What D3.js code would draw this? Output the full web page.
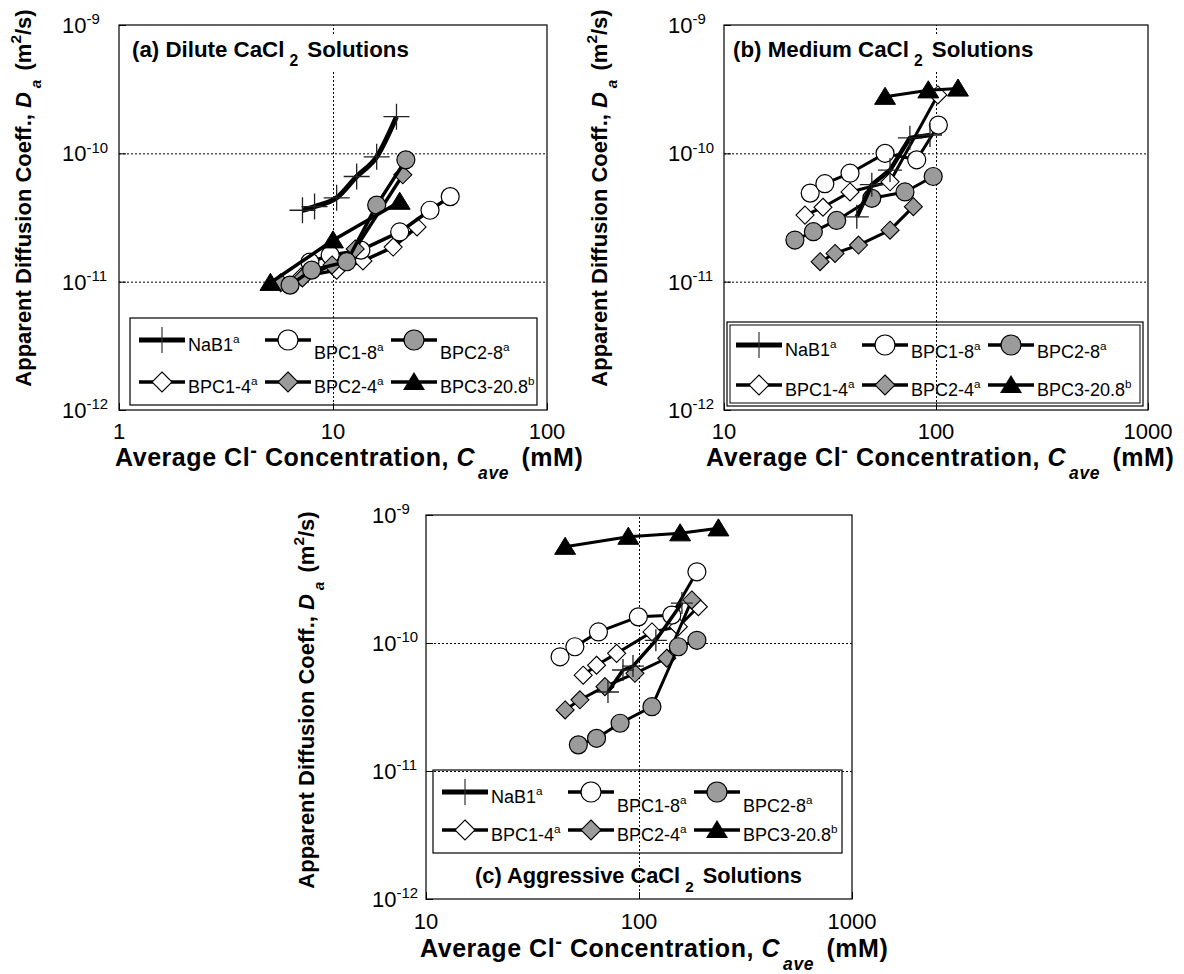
<!DOCTYPE html>
<html>
<head>
<meta charset="utf-8">
<script src="https://cdn.jsdelivr.net/npm/d3@7"></script>
<style>
  html, body { margin: 0; padding: 0; background: #fff; }
  svg { display: block; font-family: "Liberation Sans", Arial, Helvetica, sans-serif; }
</style>
</head>
<body>
<svg id="chart" width="1184" height="974"></svg>
<script>
// ---------------- DATA ----------------
const seriesNames = ["NaB1", "BPC1-8", "BPC2-8", "BPC1-4", "BPC2-4", "BPC3-20.8"];
const seriesSup   = ["a", "a", "a", "a", "a", "b"];
const xTicksA = [1, 10, 100];
const xTicksBC = [10, 100, 1000];
const yTickExps = [-12, -11, -10, -9];

// (a) Dilute CaCl2 solutions
const A_NaB1_x  = [7.2, 8.2, 10.4, 12.9, 16.0, 19.8];
const A_NaB1_y  = [3.6e-11, 3.85e-11, 4.5e-11, 6.6e-11, 9.4e-11, 1.93e-10];
const A_BPC18_x = [7.8, 9.7, 13.5, 20.5, 28.4, 35.3];
const A_BPC18_y = [1.42e-11, 1.61e-11, 1.76e-11, 2.44e-11, 3.6e-11, 4.6e-11];
const A_BPC28_x = [6.3, 7.95, 11.6, 16.0, 21.9];
const A_BPC28_y = [9.4e-12, 1.23e-11, 1.43e-11, 3.95e-11, 8.9e-11];
const A_BPC14_x = [7.1, 10.4, 13.8, 19.1, 24.7];
const A_BPC14_y = [1.09e-11, 1.23e-11, 1.45e-11, 1.86e-11, 2.67e-11];
const A_BPC24_x = [5.7, 7.2, 9.9, 12.7, 21.2];
const A_BPC24_y = [9.8e-12, 1.07e-11, 1.35e-11, 1.8e-11, 6.8e-11];
const A_BPC3_x  = [5.1, 10.0, 20.5];
const A_BPC3_y  = [9.8e-12, 2.1e-11, 4.2e-11];

// (b) Medium CaCl2 solutions
const B_NaB1_x  = [42.3, 49.8, 60.7, 75.3, 93.7];
const B_NaB1_y  = [3.2e-11, 5.7e-11, 7.4e-11, 1.32e-10, 1.39e-10];
const B_BPC18_x = [25.5, 29.9, 39.3, 57.5, 81.1, 102.6];
const B_BPC18_y = [4.9e-11, 5.8e-11, 7.0e-11, 1.0e-10, 8.9e-11, 1.66e-10];
const B_BPC28_x = [21.6, 26.4, 34.0, 49.8, 71.4, 97.0];
const B_BPC28_y = [2.11e-11, 2.45e-11, 3.0e-11, 4.46e-11, 5.0e-11, 6.6e-11];
const B_BPC14_x = [24.1, 29.3, 39.3, 60.7, 102.0];
const B_BPC14_y = [3.3e-11, 3.8e-11, 5.0e-11, 6.0e-11, 2.85e-10];
const B_BPC24_x = [28.4, 33.4, 43.1, 60.7, 78.2];
const B_BPC24_y = [1.43e-11, 1.66e-11, 1.93e-11, 2.52e-11, 3.84e-11];
const B_BPC3_x  = [57.5, 92.0, 127.0];
const B_BPC3_y  = [2.76e-10, 3.1e-10, 3.2e-10];

// (c) Aggressive CaCl2 solutions
const C_NaB1_x  = [71.5, 84.1, 93.7, 120.0, 159.0];
const C_NaB1_y  = [4.14e-11, 6.15e-11, 6.6e-11, 1.05e-10, 2.05e-10];
const C_BPC18_x = [42.6, 50.0, 64.5, 99.3, 142.5, 187.0];
const C_BPC18_y = [7.8e-11, 9.35e-11, 1.22e-10, 1.6e-10, 1.65e-10, 3.6e-10];
const C_BPC28_x = [51.9, 63.2, 81.5, 115.0, 153.0, 187.0];
const C_BPC28_y = [1.6e-11, 1.8e-11, 2.36e-11, 3.18e-11, 9.35e-11, 1.05e-10];
const C_BPC14_x = [54.7, 63.2, 78.5, 115.0, 153.0, 190.0];
const C_BPC14_y = [5.6e-11, 6.7e-11, 8.3e-11, 1.22e-10, 1.34e-10, 1.92e-10];
const C_BPC24_x = [45.0, 52.8, 69.2, 95.7, 135.0, 177.0];
const C_BPC24_y = [3.0e-11, 3.6e-11, 4.56e-11, 5.8e-11, 7.6e-11, 2.17e-10];
const C_BPC3_x  = [45.0, 89.1, 156.0, 236.0];
const C_BPC3_y  = [5.65e-10, 6.77e-10, 7.2e-10, 7.87e-10];

// ---------------- STYLE / LAYOUT ----------------
const GRAY = "#9b9b9b";
const styles = {
  "NaB1":      {marker: "cross",    fill: "none"},
  "BPC1-8":    {marker: "circle",   fill: "#fff"},
  "BPC2-8":    {marker: "circle",   fill: GRAY},
  "BPC1-4":    {marker: "diamond",  fill: "#fff"},
  "BPC2-4":    {marker: "diamond",  fill: GRAY},
  "BPC3-20.8": {marker: "triangle", fill: "#000"}
};
const drawOrder = ["BPC1-4", "BPC1-8", "BPC2-4", "BPC2-8", "NaB1", "BPC3-20.8"];

const panels = [
  { id: "a", x0: 119, x1: 547, y0: 25, y1: 410, xDomain: [1, 100], xTicks: xTicksA,
    data: {
      "NaB1": [A_NaB1_x, A_NaB1_y], "BPC1-8": [A_BPC18_x, A_BPC18_y], "BPC2-8": [A_BPC28_x, A_BPC28_y],
      "BPC1-4": [A_BPC14_x, A_BPC14_y], "BPC2-4": [A_BPC24_x, A_BPC24_y], "BPC3-20.8": [A_BPC3_x, A_BPC3_y] },
    nabW: 5, lineW: 3.5, crossH: 13, smoothNa: true,
    title: {x: 132, y: 57, text: "(a) Dilute CaCl", rest: "Solutions", bg: true, fs: 22.3},
    legend: {x: 130, y: 318, w: 407, h: 87, r1: 22, r2: 64, off2: 19, dbl: false},
    xLabelY: 439, xTitle: {x: 115, y: 466}, yTitle: {x: 31, y: 198}, yLabX: 62 },
  { id: "b", x0: 724, x1: 1148, y0: 25, y1: 410, xDomain: [10, 1000], xTicks: xTicksBC,
    data: {
      "NaB1": [B_NaB1_x, B_NaB1_y], "BPC1-8": [B_BPC18_x, B_BPC18_y], "BPC2-8": [B_BPC28_x, B_BPC28_y],
      "BPC1-4": [B_BPC14_x, B_BPC14_y], "BPC2-4": [B_BPC24_x, B_BPC24_y], "BPC3-20.8": [B_BPC3_x, B_BPC3_y] },
    nabW: 4.5, lineW: 3, crossH: 12, smoothNa: false,
    title: {x: 733, y: 57, text: "(b) Medium CaCl", rest: "Solutions", bg: true, fs: 22.3},
    legend: {x: 727, y: 322, w: 416, h: 84, r1: 23, r2: 63, off2: 13, dbl: true},
    xLabelY: 439, xTitle: {x: 706, y: 466}, yTitle: {x: 607, y: 198}, yLabX: 668 },
  { id: "c", x0: 426, x1: 852, y0: 515, y1: 899, xDomain: [10, 1000], xTicks: xTicksBC,
    data: {
      "NaB1": [C_NaB1_x, C_NaB1_y], "BPC1-8": [C_BPC18_x, C_BPC18_y], "BPC2-8": [C_BPC28_x, C_BPC28_y],
      "BPC1-4": [C_BPC14_x, C_BPC14_y], "BPC2-4": [C_BPC24_x, C_BPC24_y], "BPC3-20.8": [C_BPC3_x, C_BPC3_y] },
    nabW: 3.5, lineW: 3, crossH: 11, smoothNa: false,
    title: {x: 475, y: 883, text: "(c) Aggressive CaCl", rest: "Solutions", bg: false, fs: 21.8},
    legend: {x: 433, y: 770, w: 409, h: 83, r1: 22, r2: 60, off2: 20, dbl: false},
    xLabelY: 929, xTitle: {x: 420, y: 957}, yTitle: {x: 314, y: 700}, yLabX: 372 }
];

const svg = d3.select("#chart");

function markerPath(type, s) {
  if (type === "diamond") return `M0,${-s}L${s},0L0,${s}L${-s},0Z`;
  if (type === "triangle") { const h = s * 1.0; return `M0,${-h}L${s*1.1},${h*0.8}L${-s*1.1},${h*0.8}Z`; }
  return null;
}

function drawMarker(g, type, fill, x, y, crossH) {
  if (type === "circle") {
    g.append("circle").attr("cx", x).attr("cy", y).attr("r", 9)
      .attr("fill", fill).attr("stroke", "#000").attr("stroke-width", 1.2);
  } else if (type === "diamond") {
    g.append("path").attr("transform", `translate(${x},${y})`).attr("d", markerPath("diamond", 9))
      .attr("fill", fill).attr("stroke", "#000").attr("stroke-width", 1.1);
  } else if (type === "triangle") {
    g.append("path").attr("transform", `translate(${x},${y})`).attr("d", markerPath("triangle", 9.5))
      .attr("fill", "#000").attr("stroke", "#000").attr("stroke-width", 1);
  } else if (type === "cross") {
    g.append("path").attr("d", `M${x - crossH},${y}H${x + crossH}M${x},${y - crossH}V${y + crossH}`)
      .attr("stroke", "#222").attr("stroke-width", 1.3).attr("fill", "none");
  }
}

// rich text helper: parts [{t, sup, sub, i, dx, shift, scale}]
function richText(g, x, y, parts, fs, opts = {}) {
  const t = g.append("text").attr("x", x).attr("y", y).attr("font-size", fs)
    .attr("font-weight", opts.bold ? "bold" : "normal").attr("fill", "#000");
  if (opts.anchor) t.attr("text-anchor", opts.anchor);
  if (opts.transform) t.attr("transform", opts.transform);
  if (opts.ls) t.attr("letter-spacing", opts.ls);
  let cur = 0;
  parts.forEach(p => {
    const ts = t.append("tspan").text(p.t);
    let target = 0;
    if (p.sup) target = -(p.shift || 0.42) * fs;
    if (p.sub) target = (p.shift || 0.35) * fs;
    ts.attr("dy", target - cur);
    cur = target;
    if (p.sup || p.sub) ts.attr("font-size", (p.scale || 0.65) * fs);
    if (p.i) ts.attr("font-style", "italic");
    if (p.dx) ts.attr("dx", p.dx);
  });
  return t;
}

panels.forEach(P => {
  const g = svg.append("g");
  const x = d3.scaleLog().domain(P.xDomain).range([P.x0, P.x1]);
  const y = d3.scaleLog().domain([1e-12, 1e-9]).range([P.y1, P.y0]);

  // gridlines (dotted) at decades
  const gridG = g.append("g");
  gridG.append("g").attr("transform", `translate(0,${P.y1})`)
    .call(d3.axisBottom(x).tickValues(P.xTicks.slice(1, -1)).tickSize(-(P.y1 - P.y0)).tickFormat(""))
    .call(a => a.select(".domain").remove())
    .call(a => a.selectAll("line").attr("stroke", "#000").attr("stroke-width", 1).attr("stroke-dasharray", "2,2"));
  gridG.append("g").attr("transform", `translate(${P.x0},0)`)
    .call(d3.axisLeft(y).tickValues(yTickExps.slice(1, -1).map(e => Math.pow(10, e))).tickSize(-(P.x1 - P.x0)).tickFormat(""))
    .call(a => a.select(".domain").remove())
    .call(a => a.selectAll("line").attr("stroke", "#000").attr("stroke-width", 1).attr("stroke-dasharray", "2,2"));

  // frame
  g.append("rect").attr("x", P.x0).attr("y", P.y0).attr("width", P.x1 - P.x0).attr("height", P.y1 - P.y0)
    .attr("fill", "none").attr("stroke", "#000").attr("stroke-width", 1.2);

  // inward ticks
  g.append("g").attr("transform", `translate(0,${P.y1})`)
    .call(d3.axisBottom(x).tickValues(P.xTicks).tickSize(-7).tickFormat(""))
    .call(a => a.select(".domain").remove())
    .call(a => a.selectAll("line").attr("stroke", "#000"));
  g.append("g").attr("transform", `translate(${P.x0},0)`)
    .call(d3.axisLeft(y).tickValues(yTickExps.map(e => Math.pow(10, e))).tickSize(-7).tickFormat(""))
    .call(a => a.select(".domain").remove())
    .call(a => a.selectAll("line").attr("stroke", "#000"));

  // tick labels
  P.xTicks.forEach(v => {
    g.append("text").attr("x", x(v)).attr("y", P.xLabelY).attr("text-anchor", "middle")
      .attr("font-size", 22).text(String(v));
  });
  yTickExps.forEach(e => {
    richText(g, P.yLabX, y(Math.pow(10, e)) + 8, [{t: "10"}, {t: String(e), sup: true, shift: 0.4, scale: 0.68}], 22);
  });

  // title (with background box covering grid)
  const tg = g.append("g");
  const tt = richText(tg, P.title.x, P.title.y,
    [{t: P.title.text}, {t: "2", sub: true, dx: 5, shift: 0.42, scale: 0.7}, {t: " " + P.title.rest, dx: 3}], P.title.fs, {bold: true});
  if (P.title.bg) {
    const bb = tt.node().getBBox();
    tg.insert("rect", "text").attr("x", bb.x - 4).attr("y", bb.y - 2).attr("width", bb.width + 8).attr("height", bb.height + 4)
      .attr("fill", "#fff");
  }

  // series lines
  const lineGen = d3.line().x(d => x(d[0])).y(d => y(d[1]));
  drawOrder.forEach(name => {
    const [xs, ys] = P.data[name];
    const pts = xs.map((v, i) => [v, ys[i]]);
    const st = styles[name];
    const sg = g.append("g");
    const lg = (name === "NaB1" && P.smoothNa) ? d3.line().x(d => x(d[0])).y(d => y(d[1])).curve(d3.curveMonotoneX) : lineGen;
    sg.append("path").attr("d", lg(pts)).attr("fill", "none").attr("stroke", "#000")
      .attr("stroke-width", name === "NaB1" ? P.nabW : P.lineW).attr("stroke-linejoin", "round");
    pts.forEach(p => drawMarker(sg, st.marker, st.fill, x(p[0]), y(p[1]), P.crossH));
  });

  // legend
  const L = P.legend;
  const lgG = g.append("g");
  lgG.append("rect").attr("x", L.x).attr("y", L.y).attr("width", L.w).attr("height", L.h)
    .attr("fill", "none").attr("stroke", "#000").attr("stroke-width", 1.2);
  if (L.dbl) {
    lgG.append("rect").attr("x", L.x + 3).attr("y", L.y + 3).attr("width", L.w - 6).attr("height", L.h - 6)
      .attr("fill", "none").attr("stroke", "#000").attr("stroke-width", 1);
  }
  seriesNames.forEach((name, i) => {
    const col = i % 3, row = Math.floor(i / 3);
    const lx0 = L.x + 9 + col * 126, lx1 = lx0 + 46, mx = (lx0 + lx1) / 2;
    const ly = L.y + (row === 0 ? L.r1 : L.r2);
    const st = styles[name];
    lgG.append("line").attr("x1", lx0).attr("x2", lx1).attr("y1", ly).attr("y2", ly)
      .attr("stroke", "#000").attr("stroke-width", name === "NaB1" ? 5 : 3.5);
    if (st.marker === "cross") {
      lgG.append("line").attr("x1", mx).attr("x2", mx).attr("y1", ly - 13).attr("y2", ly + 13)
        .attr("stroke", "#333").attr("stroke-width", 1.2);
    } else if (st.marker === "circle") {
      lgG.append("circle").attr("cx", mx).attr("cy", ly).attr("r", 10).attr("fill", st.fill)
        .attr("stroke", "#000").attr("stroke-width", 1.2);
    } else if (st.marker === "diamond") {
      lgG.append("path").attr("transform", `translate(${mx},${ly})`).attr("d", markerPath("diamond", 10))
        .attr("fill", st.fill).attr("stroke", "#000").attr("stroke-width", 1.1);
    } else {
      lgG.append("path").attr("transform", `translate(${mx},${ly})`).attr("d", markerPath("triangle", 10))
        .attr("fill", "#000");
    }
    const off = (row === 0 && col > 0) ? L.off2 : 11;
    richText(lgG, lx1 + 3, ly + off, [{t: name}, {t: seriesSup[i], sup: true, shift: 0.45, scale: 0.65}], 18);
  });

  // axis titles
  richText(g, P.xTitle.x, P.xTitle.y,
    [{t: "Average Cl"}, {t: "-", sup: true, shift: 0.35, scale: 0.8}, {t: " Concentration, "},
     {t: "C", i: true}, {t: "ave", sub: true, i: true, shift: 0.5, scale: 0.7, dx: 3}, {t: " (mM)", dx: 5}],
    25, {bold: true, ls: 0.55});
  richText(g, 0, 0,
    [{t: "Apparent Diffusion Coeff., "}, {t: "D", i: true}, {t: "a", sub: true, i: true, shift: 0.45, scale: 0.7, dx: 4},
     {t: " (m", dx: 3}, {t: "2", sup: true, shift: 0.45, scale: 0.7}, {t: "/s)"}],
    22, {bold: true, anchor: "middle", transform: `translate(${P.yTitle.x},${P.yTitle.y}) rotate(-90)`});
});
</script>
</body>
</html>
